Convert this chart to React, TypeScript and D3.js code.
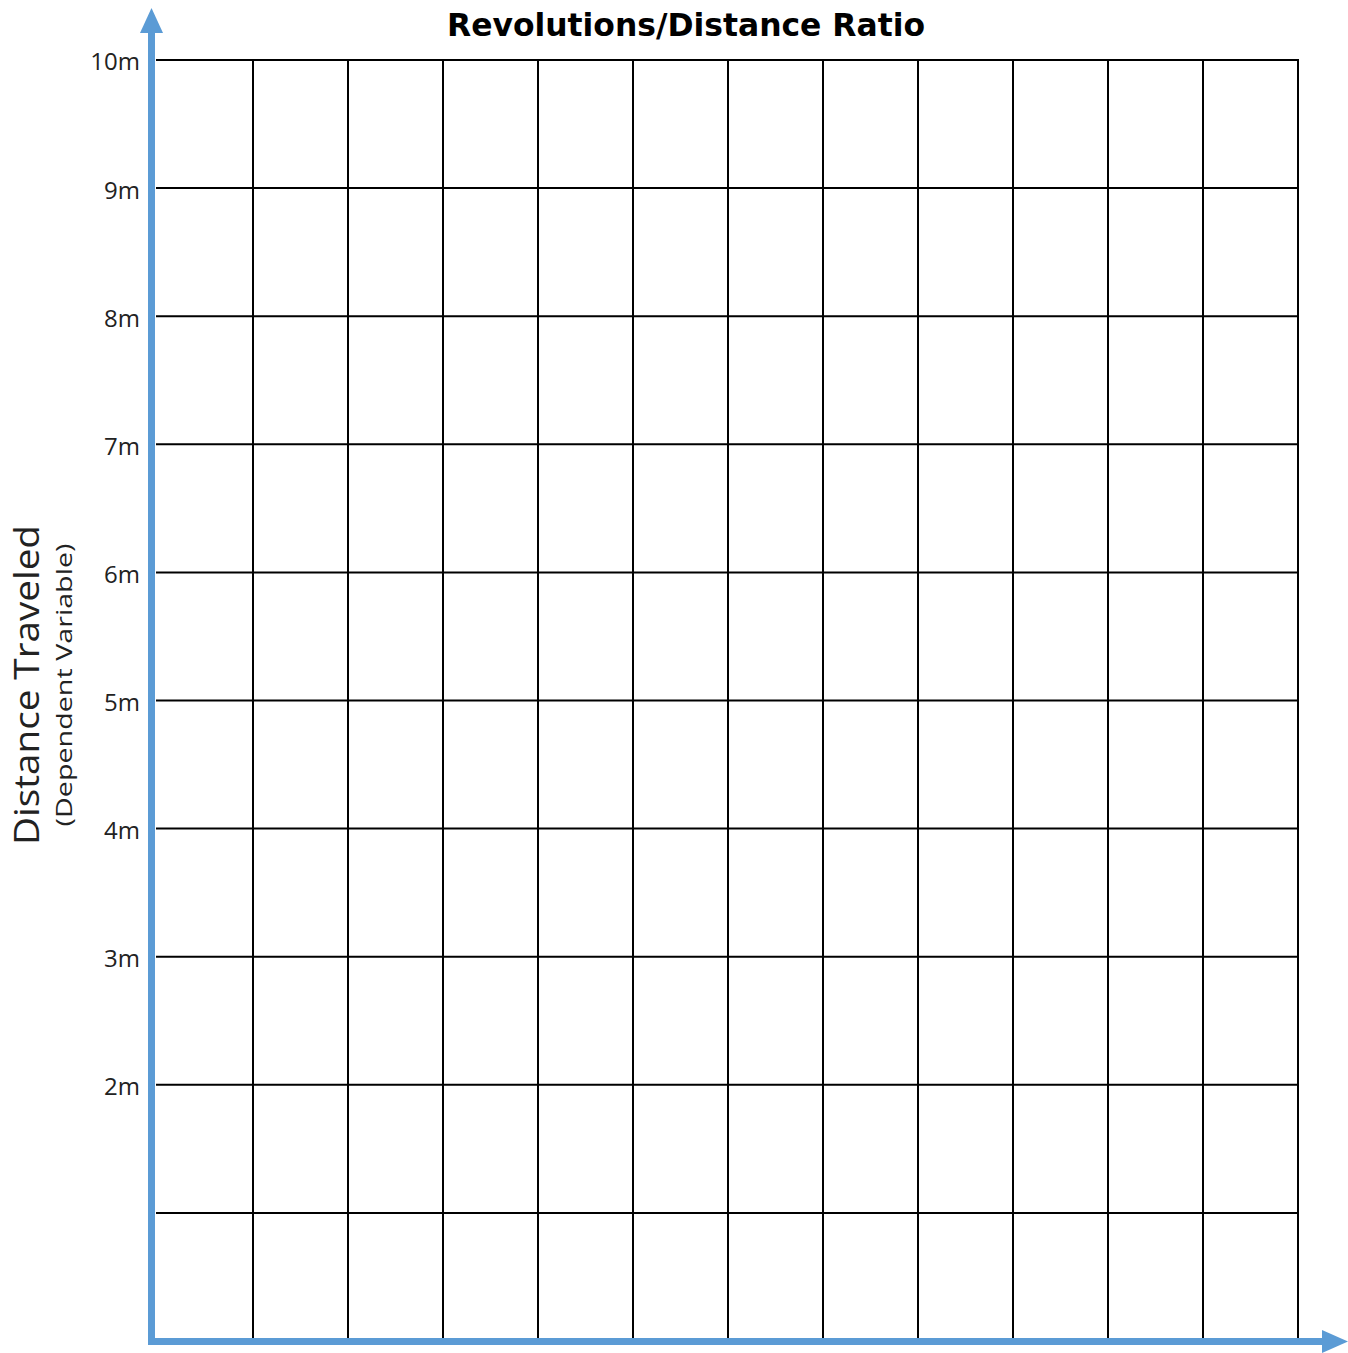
import React from "react";
import * as d3 from "d3";

const title = "Revolutions/Distance Ratio";
const yAxisTitle = "Distance Traveled";
const yAxisSubtitle = "(Dependent Variable)";
const yDomain = [0, 10];
const yGridValues = [1, 2, 3, 4, 5, 6, 7, 8, 9, 10];
const yTickValues = [2, 3, 4, 5, 6, 7, 8, 9, 10];
const yTickLabels = ["2m", "3m", "4m", "5m", "6m", "7m", "8m", "9m", "10m"];
const columnCount = 12;

const W = 1348;
const H = 1353;
const BLUE = "#5B9BD5";

export default function App() {
  const gridLeft = 156;
  const gridRight = 1297;
  const y = d3.scaleLinear().domain(yDomain).range([1341, 60]);
  const x = d3.scaleLinear().domain([0, columnCount]).range([158, 1298]);
  const cols = d3.range(1, columnCount + 1);

  return (
    <svg
      width={W}
      height={H}
      style={{ position: "absolute", left: 0, top: 0, background: "#fff" }}
    >
      <rect x={0} y={0} width={W} height={H} fill="#fff" />
      {yGridValues.map((v) => (
        <line
          key={"h" + v}
          x1={gridLeft}
          x2={gridRight + 1}
          y1={y(v)}
          y2={y(v)}
          stroke="#000"
          strokeWidth={2}
        />
      ))}
      {cols.map((c) => (
        <line
          key={"v" + c}
          x1={x(c)}
          x2={x(c)}
          y1={y(10) - 1}
          y2={y(0)}
          stroke="#000"
          strokeWidth={2}
        />
      ))}
      <line x1={151.5} x2={151.5} y1={30} y2={1345} stroke={BLUE} strokeWidth={7} />
      <path d="M151.5,8 L163,33 L140,33 Z" fill={BLUE} />
      <line x1={148} x2={1325} y1={1341.5} y2={1341.5} stroke={BLUE} strokeWidth={7} />
      <path d="M1348,1341.5 L1322,1330 L1322,1353 Z" fill={BLUE} />
      {yTickValues.map((v, i) => (
        <text
          key={"t" + v}
          x={140}
          y={y(v) + 4}
          textAnchor="end"
          dominantBaseline="middle"
          fontFamily="'Open Sans', sans-serif"
          fontSize={24}
          fill="#222"
        >
          {yTickLabels[i]}
        </text>
      ))}
      <text
        x={686}
        y={27}
        textAnchor="middle"
        dominantBaseline="middle"
        fontFamily="'DejaVu Sans', sans-serif"
        fontWeight="bold"
        fontSize={32}
        textLength={478}
        lengthAdjust="spacingAndGlyphs"
        fill="#000"
      >
        {title}
      </text>
      <text
        transform={`translate(26,685) rotate(-90)`}
        textAnchor="middle"
        dominantBaseline="central"
        fontFamily="'Open Sans', sans-serif"
        fontSize={34}
        textLength={320}
        lengthAdjust="spacingAndGlyphs"
        fill="#222"
      >
        {yAxisTitle}
      </text>
      <text
        transform={`translate(63,685) rotate(-90)`}
        textAnchor="middle"
        dominantBaseline="central"
        fontFamily="'Open Sans', sans-serif"
        fontSize={22}
        textLength={283}
        lengthAdjust="spacingAndGlyphs"
        fill="#222"
      >
        {yAxisSubtitle}
      </text>
    </svg>
  );
}
